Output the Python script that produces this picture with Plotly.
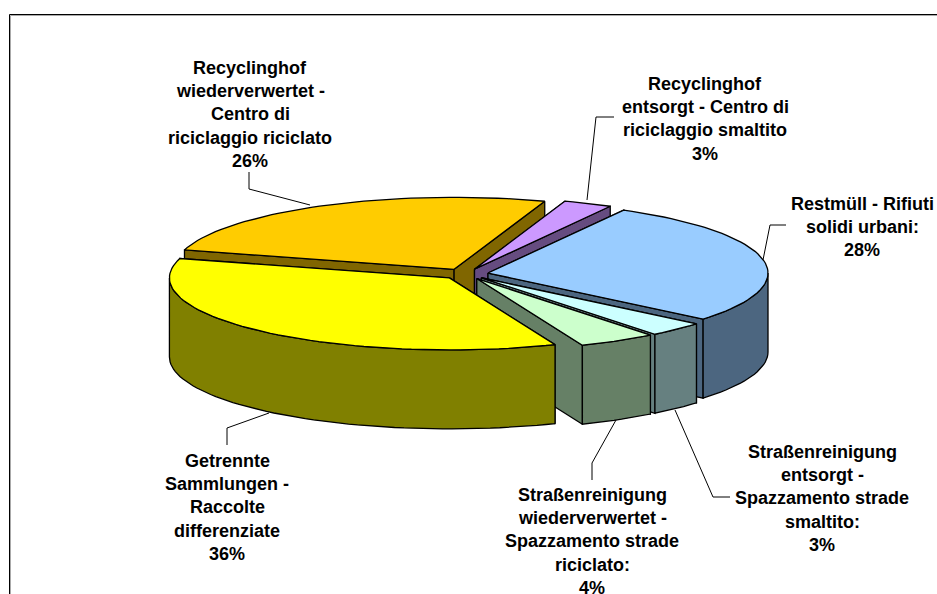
import math
import plotly.graph_objects as go

# ---- data ----
slice_names = ["Restmüll - Rifiuti solidi urbani", "Straßenreinigung entsorgt - Spazzamento strade smaltito",
               "Straßenreinigung wiederverwertet - Spazzamento strade riciclato", "Getrennte Sammlungen - Raccolte differenziate",
               "Recyclinghof wiederverwertet - Centro di riciclaggio riciclato", "Recyclinghof entsorgt - Centro di riciclaggio smaltito"]
shares = [28.0, 3.3, 4.49, 35.5, 25.9, 2.81]
top_colors = ["#99CCFF", "#CCFFFF", "#CCFFCC", "#FFFF00", "#FFCC00", "#CC99FF"]
side_colors = ["#4C6680", "#668080", "#668066", "#808000", "#806600", "#664C80"]
label_lines = [
    ["Restmüll - Rifiuti", "solidi urbani:", "28%"],
    ["Straßenreinigung", "entsorgt -", "Spazzamento strade", "smaltito:", "3%"],
    ["Straßenreinigung", "wiederverwertet -", "Spazzamento strade", "riciclato:", "4%"],
    ["Getrennte", "Sammlungen -", "Raccolte", "differenziate", "36%"],
    ["Recyclinghof", "wiederverwertet -", "Centro di", "riciclaggio riciclato", "26%"],
    ["Recyclinghof", "entsorgt - Centro di", "riciclaggio smaltito", "3%"],
]

# ---- layout constants ----
W, H = 937, 594
CX, CY = 465, 274      # pie centre before explosion
RX, RY = 280, 72       # projected ellipse radii
EX, EY = 23.4, 5.25    # explosion offset
DEPTH = 79
START = -61            # degrees, clockwise on screen
DRAW_ORDER = [4, 5, 0, 1, 2, 3]  # back to front
LABEL_POS = [(862, 204), (822, 452), (592, 495), (227, 461), (250, 68), (705, 84)]
LINE_STEP = 23.2
LEADERS = [
    [(786, 225), (770, 225), (763, 260)],
    [(730, 497), (713, 497), (675, 410)],
    [(592, 480), (592, 463), (616, 420)],
    [(227, 445), (227, 428), (269, 413)],
    [(249, 172), (249, 189), (310, 205)],
    [(614, 117), (596, 117), (587, 200)],
]

fig = go.Figure()


def poly(points, fill):
    xs = [p[0] for p in points] + [points[0][0]]
    ys = [p[1] for p in points] + [points[0][1]]
    fig.add_trace(go.Scatter(x=xs, y=ys, mode="lines", fill="toself", fillcolor=fill,
                             line=dict(color="#000000", width=1.3), hoverinfo="skip", showlegend=False))


total = sum(shares)
spans = []
a = START
for s in shares:
    spans.append((a, a + 360 * s / total))
    a += 360 * s / total


def rim(ax, ay, a0, a1, dy=0):
    n = max(2, int(abs(a1 - a0) / 2) + 2)
    return [(ax + RX * math.cos(math.radians(a0 + (a1 - a0) * i / (n - 1))),
             ay + dy + RY * math.sin(math.radians(a0 + (a1 - a0) * i / (n - 1)))) for i in range(n)]


for i in DRAW_ORDER:
    a0, a1 = spans[i]
    mid = math.radians((a0 + a1) / 2)
    ax, ay = CX + EX * math.cos(mid), CY + EY * math.sin(mid)
    # radial walls
    for ang in (a0, a1):
        e = rim(ax, ay, ang, ang)[0]
        poly([(ax, ay), e, (e[0], e[1] + DEPTH), (ax, ay + DEPTH)], side_colors[i])
    # outer wall: only the front half of the rim is visible
    segments = []
    for k in (-1, 0, 1):
        s0, s1 = max(a0, 360 * k), min(a1, 360 * k + 180)
        if s1 > s0:
            segments.append((s0, s1))
    for s0, s1 in segments:
        top = rim(ax, ay, s0, s1)
        bot = rim(ax, ay, s1, s0, DEPTH)
        poly(top + bot, side_colors[i])
    # top face
    poly([(ax, ay)] + rim(ax, ay, a0, a1), top_colors[i])

shapes = []
for pts in LEADERS:
    for p, q in zip(pts, pts[1:]):
        shapes.append(dict(type="line", xref="x", yref="y", x0=p[0], y0=p[1], x1=q[0], y1=q[1],
                           line=dict(color="#000000", width=1)))
# chart frame (open at right and bottom, cropped in the reference)
shapes += [
    dict(type="line", xref="x", yref="y", x0=9.5, y0=14.5, x1=W, y1=14.5, line=dict(color="#000000", width=1)),
    dict(type="line", xref="x", yref="y", x0=9.5, y0=14.5, x1=9.5, y1=H, line=dict(color="#000000", width=1)),
    dict(type="line", xref="x", yref="y", x0=10.5, y0=15.5, x1=W, y1=15.5, line=dict(color="#AAAAAA", width=1)),
    dict(type="line", xref="x", yref="y", x0=10.5, y0=15.5, x1=10.5, y1=H, line=dict(color="#AAAAAA", width=1)),
]

annotations = []
for lines, (lx, ly) in zip(label_lines, LABEL_POS):
    for j, t in enumerate(lines):
        annotations.append(dict(x=lx, y=ly + j * LINE_STEP, xref="x", yref="y", text="<b>%s</b>" % t, showarrow=False,
                                xanchor="center", yanchor="middle",
                                font=dict(family="Liberation Sans", size=18, color="#000000")))

fig.update_layout(
    width=W, height=H, margin=dict(l=0, r=0, t=0, b=0), autosize=False,
    paper_bgcolor="#FFFFFF", plot_bgcolor="#FFFFFF", showlegend=False,
    xaxis=dict(range=[0, W], visible=False, fixedrange=True),
    yaxis=dict(range=[H, 0], visible=False, fixedrange=True),
    shapes=shapes, annotations=annotations,
)
fig.write_html("out.html", config={"displayModeBar": False},
               post_script="document.body.style.margin='0';document.documentElement.style.overflow='hidden';")
